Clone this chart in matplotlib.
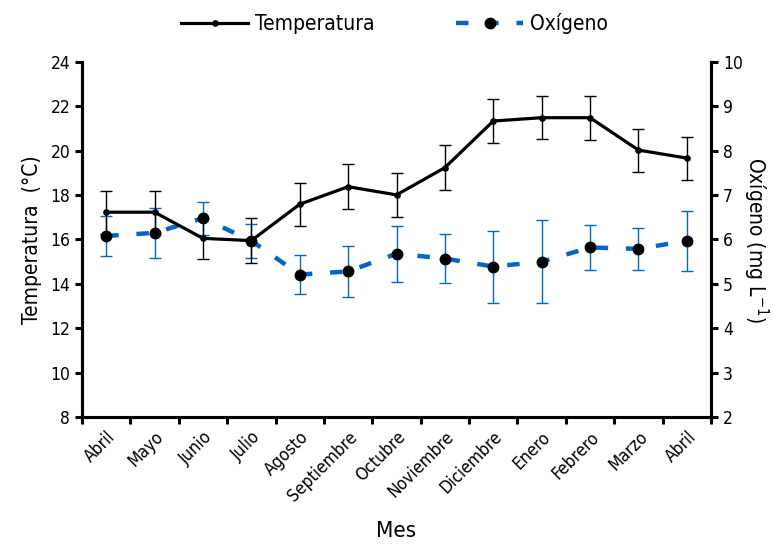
import numpy as np
import matplotlib
matplotlib.use('Agg')
import matplotlib.pyplot as plt
from matplotlib.lines import Line2D

plt.rcParams['font.family'] = ['DejaVu Sans']
plt.rcParams['font.stretch'] = 'condensed'

meses = ['Abril', 'Mayo', 'Junio', 'Julio', 'Agosto', 'Septiembre', 'Octubre',
         'Noviembre', 'Diciembre', 'Enero', 'Febrero', 'Marzo', 'Abril']
temperatura = [17.23, 17.23, 16.05, 15.95, 17.59, 18.38, 18.01,
               19.24, 21.34, 21.49, 21.49, 20.03, 19.67]
temp_err = [0.97, 0.97, 0.94, 1.01, 0.97, 1.01, 0.98,
            1.01, 1.01, 0.98, 0.99, 0.97, 0.97]
oxigeno = [6.08, 6.15, 6.48, 5.97, 5.21, 5.28, 5.68,
           5.57, 5.39, 5.50, 5.82, 5.79, 5.97]
oxi_err = [0.46, 0.57, 0.37, 0.38, 0.43, 0.58, 0.63,
           0.55, 0.81, 0.94, 0.50, 0.47, 0.68]

azul = '#0066CC'
guion = (0, (2.8, 4.0))
x = np.arange(len(meses))

fig = plt.figure(figsize=(7.74, 5.44), dpi=100)
ax = fig.add_axes([0.106, 0.2335, 0.8126, 0.6525])
ax2 = ax.twinx()

# oxigeno (eje derecho)
ax2.errorbar(x, oxigeno, yerr=oxi_err, fmt='none', ecolor=azul, elinewidth=1,
             capsize=4, capthick=1, zorder=2)
ax2.plot(x, oxigeno, color=azul, lw=3.2, linestyle=guion, zorder=3)
ax2.plot(x, oxigeno, 'o', color='black', ms=7.5, zorder=4)

# temperatura (eje izquierdo) - dibujada encima
ax.set_zorder(ax2.get_zorder() + 1)
ax.patch.set_visible(False)
ax.errorbar(x, temperatura, yerr=temp_err, fmt='none', ecolor='black', elinewidth=1,
            capsize=4, capthick=1, zorder=2)
ax.plot(x, temperatura, '-', color='black', lw=2.3, marker='o', ms=3.8, zorder=3)

ax.set_xlim(-0.5, len(meses) - 0.5)
ax.set_ylim(8, 24)
ax.set_yticks(np.arange(8, 25, 2))
ax2.set_ylim(2, 10)
ax2.set_yticks(np.arange(2, 11, 1))

ax.set_xticks(np.arange(-0.5, len(meses), 1))
ax.set_xticklabels([])
ax.set_xticks(x, minor=True)
ax.set_xticklabels(meses, minor=True, rotation=45, ha='right', rotation_mode='anchor',
                   fontsize=12.5)
ax.tick_params(axis='x', which='minor', length=0, pad=8)
ax.tick_params(axis='x', which='major', length=5, width=2.2, direction='out')
ax.tick_params(axis='y', length=5, width=2.2, direction='out', labelsize=12.5)
ax2.tick_params(axis='y', length=5, width=2.2, direction='out', labelsize=12.5)

for a in (ax, ax2):
    a.spines['top'].set_visible(False)
    for s in ('left', 'right', 'bottom'):
        a.spines[s].set_linewidth(2.2)

ax.set_xlabel('Mes', fontsize=16, labelpad=12)
ax.set_ylabel('Temperatura  (°C)', fontsize=15, labelpad=6)
ax2.set_ylabel('Oxígeno (mg L$^{-1}$)', fontsize=15, rotation=-90, labelpad=20)

handles = [
    Line2D([], [], color='black', lw=2.3, marker='o', ms=3.8),
    Line2D([], [], color=azul, lw=3.2, linestyle=guion, marker='o',
           markerfacecolor='black', markeredgecolor='black', ms=7.5),
]
fig.legend(handles, ['Temperatura', 'Oxígeno'], loc='upper center',
           bbox_to_anchor=(0.51, 1.01), ncol=2, frameon=False, fontsize=15,
           handlelength=3.2, handletextpad=0.35, columnspacing=3.9)

fig.savefig('out.png', dpi=100)
